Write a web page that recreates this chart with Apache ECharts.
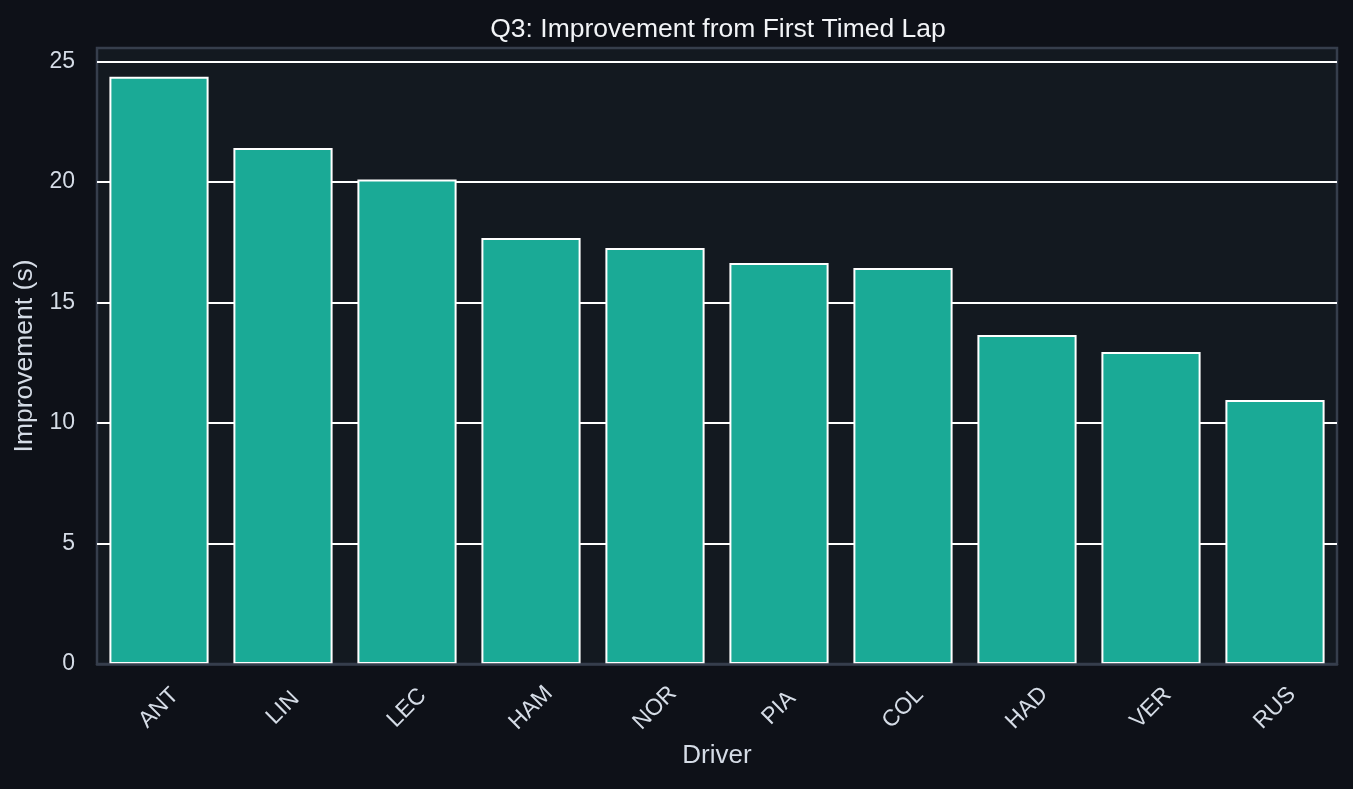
<!DOCTYPE html>
<html>
<head>
<meta charset="utf-8">
<script src="https://cdn.jsdelivr.net/npm/echarts@6/dist/echarts.min.js"></script>
<style>
  html, body { margin: 0; padding: 0; background: #0e1118; }
  #main { width: 1353px; height: 789px; }
</style>
</head>
<body>
<div id="main"></div>
<script>
// Q3 improvement per driver, seconds
const drivers = ["ANT", "LIN", "LEC", "HAM", "NOR", "PIA", "COL", "HAD", "VER", "RUS"];
const improvement = [24.37, 21.41, 20.10, 17.68, 17.26, 16.64, 16.43, 13.65, 12.95, 10.95];
const yTicks = [0, 5, 10, 15, 20, 25];

const textColor = "#d5dce6";
const font = "Liberation Sans, Arial, sans-serif";

var chart = echarts.init(document.getElementById("main"));

var option = {
  backgroundColor: "#0e1118",
  title: {
    text: "Q3: Improvement from First Timed Lap",
    left: 713,
    textAlign: "center",
    top: 11,
    textStyle: { color: "#f2f4f7", fontSize: 26.5, fontWeight: "normal", fontFamily: font },
  },
  grid: {
    left: 97,
    right: 16,
    top: 48,
    bottom: 125,
    show: true,
    backgroundColor: "#131920",
    borderColor: "#363e4c",
    borderWidth: 2.5,
  },
  xAxis: {
    type: "category",
    data: drivers,
    z: 5,
    name: "Driver",
    nameLocation: "middle",
    nameGap: 79,
    nameTextStyle: { color: textColor, fontSize: 26, fontFamily: font },
    axisLine: { show: true, lineStyle: { color: "#363e4c", width: 2.5 } },
    axisTick: { show: false },
    axisLabel: {
      rotate: 45,
      align: "center",
      verticalAlign: "middle",
      margin: 44,
      color: textColor,
      fontSize: 23,
      fontFamily: font,
    },
  },
  yAxis: {
    type: "value",
    min: 0,
    max: 25.56,
    interval: 5,
    name: "Improvement (s)",
    nameLocation: "middle",
    nameGap: 59,
    nameTextStyle: { color: textColor, fontSize: 26.5, fontFamily: font },
    axisLine: { show: false },
    axisTick: { show: false },
    axisLabel: {
      margin: 22,
      color: textColor,
      fontSize: 23,
      fontFamily: font,
      showMaxLabel: false,
      formatter: function (v) { return yTicks.indexOf(v) >= 0 ? String(v) : ""; },
    },
    splitLine: {
      show: true,
      showMinLine: false,
      showMaxLine: false,
      lineStyle: { color: "#ffffff", width: 2 },
    },
  },
  series: [
    {
      type: "bar",
      data: improvement,
      barCategoryGap: "20%",
      itemStyle: { color: "#1aaa96", borderColor: "#ffffff", borderWidth: 2 },
    },
  ],
};

chart.setOption(option);
</script>
</body>
</html>
